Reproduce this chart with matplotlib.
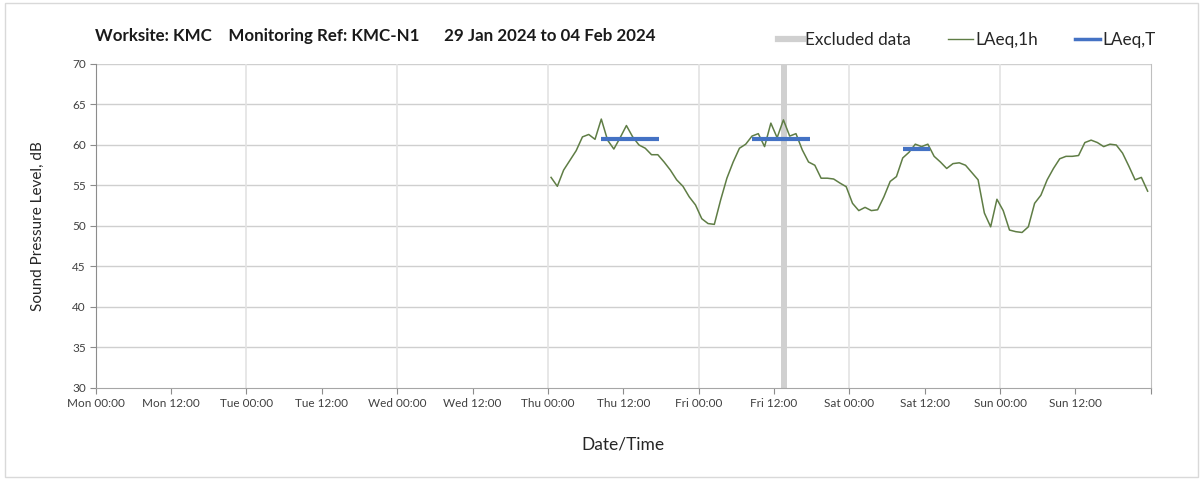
import matplotlib.pyplot as plt
from matplotlib.lines import Line2D
from matplotlib.patches import Rectangle
import numpy as np

# Hourly LAeq,1h values (dB), starting Thu 00:30, one per hour
laeq_1h = [
    56.0, 54.9, 56.9, 58.1, 59.3, 61.0, 61.3, 60.7, 63.2, 60.6,
    59.5, 60.9, 62.4, 61.0, 60.0, 59.6, 58.8, 58.8, 57.9, 56.9,
    55.7, 54.9, 53.6, 52.6, 50.9, 50.3, 50.2, 53.2, 55.9, 57.9,
    59.6, 60.1, 61.1, 61.4, 59.8, 62.7, 60.9, 63.1, 61.1, 61.4,
    59.4, 57.9, 57.5, 55.9, 55.9, 55.8, 55.3, 54.85, 52.8, 51.9,
    52.3, 51.9, 52.0, 53.6, 55.5, 56.1, 58.4, 59.1, 60.1, 59.8,
    60.1, 58.6, 57.9, 57.1, 57.7, 57.8, 57.5, 56.6, 55.7, 51.6,
    49.9, 53.3, 51.9, 49.5, 49.3, 49.2, 49.9, 52.8, 53.8, 55.7,
    57.1, 58.3, 58.6, 58.6, 58.7, 60.3, 60.6, 60.3, 59.8, 60.1,
    60.0, 59.0, 57.4, 55.7, 56.0, 54.3,
]
first_hour = 72.5  # hours after Mon 00:00

# LAeq,T working-period levels: start hour, end hour, level
laeq_t_start = [80.4, 104.5, 128.5]
laeq_t_end = [89.7, 113.8, 132.8]
laeq_t_level = [60.7, 60.8, 59.5]

# excluded data window (hours after Mon 00:00)
excluded_start = [109.1]
excluded_end = [110.0]

days = ["Mon", "Tue", "Wed", "Thu", "Fri", "Sat", "Sun"]
tick_labels = [f"{d} {h}" for d in days for h in ("00:00", "12:00")]

title = "Worksite: KMC    Monitoring Ref: KMC-N1      29 Jan 2024 to 04 Feb 2024"

plt.rcParams["font.family"] = ["Lato", "DejaVu Sans"]

fig = plt.figure(figsize=(12.03, 4.79), dpi=100)
ax = fig.add_axes([0.0796, 0.19, 0.877, 0.6764])

hours = first_hour + np.arange(len(laeq_1h))

for s, e in zip(excluded_start, excluded_end):
    ax.axvspan(s, e, color="#d0d0d0", lw=0, zorder=1)

ax.plot(hours, laeq_1h, color="#5f7d45", lw=1.1, zorder=3)
ax.hlines(laeq_t_level, laeq_t_start, laeq_t_end, color="#4472c4", lw=3, zorder=4)

ax.set_xlim(0, 168)
ax.set_ylim(30, 70)
ax.set_yticks(np.arange(30, 71, 5))
ax.set_xticks(np.arange(0, 169, 12))
ax.set_xticklabels(tick_labels + [""])

# horizontal grid every 5 dB, vertical grid at midnight only
for y in np.arange(35, 71, 5):
    ax.axhline(y, color="#cfcfcf", lw=1, zorder=0)
for x in np.arange(24, 168, 24):
    ax.axvline(x, color="#e3e3e3", lw=1.2, zorder=0)

ax.spines["top"].set_visible(False)
ax.spines["right"].set_color("#bfbfbf")
ax.spines["left"].set_color("#8c8c8c")
ax.spines["bottom"].set_color("#a6a6a6")
ax.tick_params(axis="both", direction="out", length=4, color="#8c8c8c",
               labelsize=8.5, labelcolor="#404040", pad=3)

ax.set_ylabel("Sound Pressure Level, dB", fontsize=11, color="#262626", labelpad=20)
ax.set_xlabel("Date/Time", fontsize=12.5, color="#262626", labelpad=20)

fig.text(0.079, 0.925, title, fontsize=12.2, fontweight="bold", color="#1a1a1a",
         ha="left", va="center")

handles = [
    Line2D([], [], color="#d0d0d0", lw=4.5),
    Line2D([], [], color="#5f7d45", lw=1),
    Line2D([], [], color="#4472c4", lw=2.5),
]
fig.legend(handles, ["Excluded data", "LAeq,1h", "LAeq,T"], loc="center right",
           bbox_to_anchor=(0.9675, 0.917), ncol=3, frameon=False, fontsize=12.3,
           handlelength=1.45, handletextpad=0.15, columnspacing=2.15, borderpad=0,
           labelcolor="#262626")

# outer chart border
fig.add_artist(Rectangle((0.004, 0.004), 0.992, 0.99, transform=fig.transFigure,
                         fill=False, edgecolor="#d9d9d9", lw=1))

fig.savefig("out.png", dpi=100)
